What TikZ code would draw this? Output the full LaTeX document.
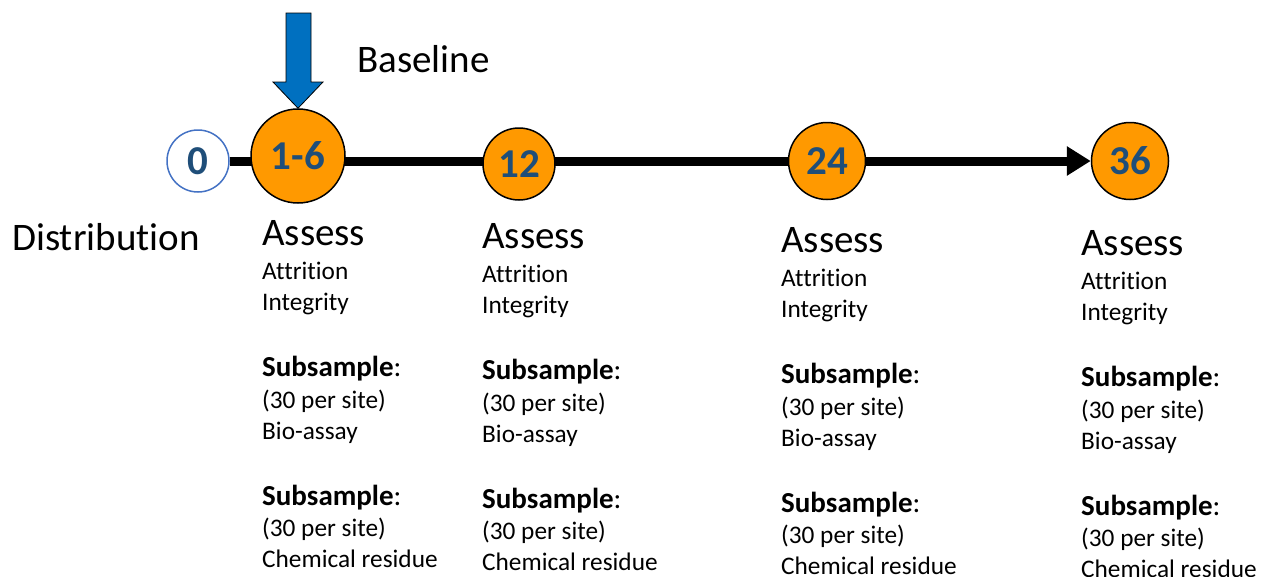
\documentclass[tikz,border=0pt]{standalone}
\usepackage{fontspec}
\setmainfont{Carlito}[Ligatures={NoCommon}]
\usetikzlibrary{arrows.meta,backgrounds}
\definecolor{orng}{RGB}{255,153,0}
\definecolor{numblue}{RGB}{31,78,121}
\definecolor{arrblue}{RGB}{0,112,192}
\definecolor{ringblue}{RGB}{68,114,196}
\tikzset{
  stage/.style={circle, draw=black, line width=1.5pt, fill=orng, minimum size=#1,
    inner sep=0pt, text=numblue, font=\fontsize{41}{43}\selectfont\bfseries},
  startstage/.style={stage=#1, fill=white, draw=ringblue},
  timeline/.style={line width=9pt, black},
  big/.style={anchor=base west, inner sep=0pt, font=\fontsize{39}{44}\selectfont},
  small/.style={anchor=base west, inner sep=0pt, font=\fontsize{25.3}{30}\selectfont},
  boldlbl/.style={anchor=base west, inner sep=0pt, font=\fontsize{29}{32}\selectfont},
}
\newcommand\assesscol[3]{%
  \node[big] (#1a) at (#2,#3+12.5) {Assess};
  \node[small] (#1b) at (#2,#3+46) {Attrition};
  \node[small] (#1c) at (#2,#3+77) {Integrity};
  \node[boldlbl] (#1d) at (#2,#3+143) {\textbf{Subsample}:};
  \node[small] (#1e) at (#2,#3+175) {(30 per site)};
  \node[small] (#1f) at (#2,#3+206) {Bio-assay};
  \node[boldlbl] (#1g) at (#2,#3+272) {\textbf{Subsample}:};
  \node[small] (#1h) at (#2,#3+303) {(30 per site)};
  \node[small] (#1i) at (#2,#3+334) {Chemical residue};
}
\begin{document}
\begin{tikzpicture}[x=1pt,y=-1pt]
\useasboundingbox (0,0) rectangle (1261,576);
\node[startstage=62] (c0) at (198,161) {0};
\node[stage=94] (c16) at (298,156) {1-6};
\node[stage=72] (c12) at (519,164) {12};
\node[stage=77] (c24) at (827,161) {24};
\node[stage=77] (c36) at (1130,161) {36};
\begin{pgfonlayer}{background}
  \draw[timeline] (c0) -- (c24);
\end{pgfonlayer}
\draw[timeline, -{Triangle[length=24pt,width=28pt]}] (c24) -- (c36);
\draw[fill=arrblue, draw=black, line width=0.8pt]
  (286,13) -- (311,13) -- (311,82) -- (323,82) -- (c16.north) -- (273,82) -- (286,82) -- cycle;
\node[big] (base) at (357,72) {Baseline};
\node[big] (dist) at (12,250.5) {Distribution};
\assesscol{p}{262}{233}
\assesscol{q}{482}{236}
\assesscol{r}{781}{240}
\assesscol{s}{1081}{243}
\end{tikzpicture}
\end{document}
